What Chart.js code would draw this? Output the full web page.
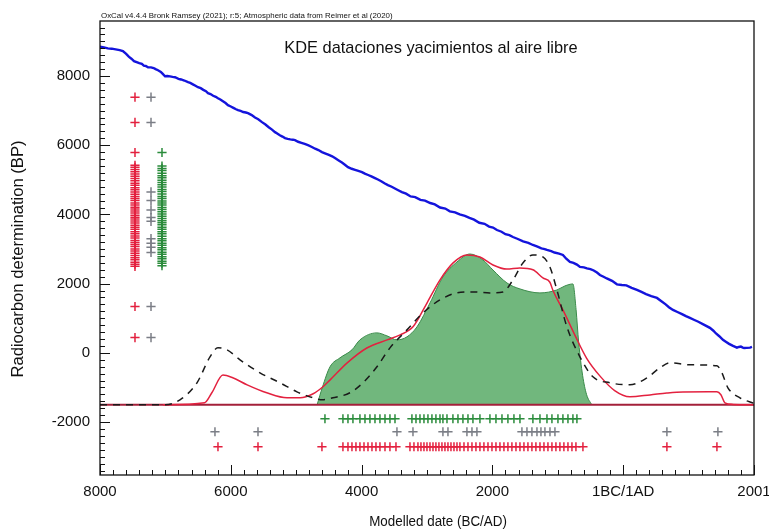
<!DOCTYPE html>
<html><head><meta charset="utf-8">
<script src="https://cdn.jsdelivr.net/npm/chart.js@4.4.1/dist/chart.umd.min.js"></script>
<style>html,body{margin:0;padding:0;background:#fff;}#wrap{width:769px;height:531px;}</style>
</head><body><div id="wrap"><canvas id="c" width="769" height="531"></canvas></div>
<script>
// ---------- text ----------
const headerText = "OxCal v4.4.4 Bronk Ramsey (2021); r:5; Atmospheric data from Reimer et al (2020)";
const titleText = "KDE dataciones yacimientos al aire libre";
const xTitle = "Modelled date (BC/AD)";
const yTitle = "Radiocarbon determination (BP)";

// ---------- axes ----------
const xRange = [-8000, 2001];
const yRange = [-3530, 9590];
const xTickValues = [-8000, -6000, -4000, -2000, 0, 2001];
const yTickValues = [-2000, 0, 2000, 4000, 6000, 8000];
const kdeBaseline = -1500;

// ---------- calibration curve (cal BC/AD, 14C BP) ----------
const curveCal = [-8000,-7940,-7880,-7820,-7760,-7700,-7650,-7600,-7560,-7520,-7480,-7440,-7400,-7360,-7330,-7300,-7266,-7220,-7180,-7150,-7113,-7070,-7040,-7006,-6970,-6930,-6890,-6853,-6800,-6760,-6710,-6654,-6620,-6580,-6540,-6502,-6460,-6420,-6380,-6349,-6310,-6270,-6230,-6196,-6160,-6120,-6080,-6043,-6000,-5960,-5920,-5890,-5850,-5810,-5770,-5737,-5680,-5630,-5580,-5523,-5470,-5420,-5370,-5324,-5290,-5250,-5210,-5171,-5130,-5090,-5050,-5018,-4970,-4920,-4870,-4820,-4760,-4710,-4660,-4606,-4550,-4500,-4450,-4407,-4350,-4300,-4250,-4208,-4150,-4100,-4050,-3994,-3950,-3900,-3850,-3795,-3750,-3700,-3650,-3597,-3540,-3490,-3440,-3383,-3320,-3250,-3180,-3100,-3030,-2950,-2880,-2800,-2720,-2650,-2570,-2500,-2420,-2350,-2280,-2200,-2120,-2050,-1990,-1930,-1860,-1800,-1740,-1685,-1610,-1530,-1450,-1380,-1310,-1250,-1200,-1166,-1100,-1050,-980,-921,-870,-814,-760,-707,-661,-600,-554,-500,-450,-400,-355,-300,-250,-170,-95,-20,50,130,211,280,350,430,517,580,650,700,762,830,900,960,1021,1090,1150,1240,1327,1380,1420,1470,1526,1570,1620,1680,1740,1770,1800,1830,1850,1893,1940,1970];
const curveBP  = [8850,8830,8800,8790,8770,8750,8720,8640,8560,8500,8430,8400,8370,8350,8300,8290,8254,8250,8230,8200,8167,8120,8060,7994,8000,7990,7975,7965,7920,7900,7870,7821,7800,7760,7720,7677,7650,7600,7560,7504,7480,7430,7400,7359,7320,7270,7220,7157,7120,7080,7040,7013,6990,6960,6945,6926,6870,6800,6750,6667,6600,6520,6450,6378,6340,6290,6250,6205,6185,6170,6160,6147,6100,6070,6040,6003,5950,5900,5860,5801,5760,5720,5680,5628,5560,5500,5430,5368,5320,5290,5260,5224,5180,5140,5100,5050,5010,4960,4900,4848,4800,4750,4700,4646,4600,4520,4500,4420,4400,4330,4290,4200,4170,4090,4060,4000,3960,3900,3850,3760,3730,3650,3620,3550,3500,3430,3400,3348,3290,3220,3180,3117,3070,3020,3000,2973,2940,2900,2870,2828,2720,2626,2600,2550,2482,2470,2440,2420,2380,2320,2250,2200,2150,2080,1980,1960,1950,1880,1818,1760,1700,1640,1587,1500,1400,1320,1241,1180,1120,1060,1010,950,900,810,722,640,560,480,375,320,260,200,150,170,180,150,140,144,150,170];

// ---------- KDE: green (filled) ----------
const greenCal = [-4680,-4600,-4483,-4330,-4147,-4025,-3765,-3612,-3459,-3306,-3153,-2954,-2756,-2541,-2343,-2144,-1991,-1777,-1578,-1272,-1013,-890,-768,-720,-680,-620,-560,-480];
const greenBP  = [-1500,-1000,-404,-144,87,375,577,491,375,462,750,1443,2193,2626,2857,2684,2395,2020,1847,1732,1818,1934,1991,1250,300,-650,-1200,-1500];

// ---------- KDE: red line ----------
const redCal = [-7040,-6400,-6290,-6120,-5970,-5750,-5450,-5140,-4940,-4740,-4590,-4480,-4220,-3920,-3610,-3410,-3210,-3000,-2800,-2600,-2390,-2190,-1990,-1780,-1580,-1380,-1227,-1120,-1073,-921,-740,-560,-350,-130,104,410,669,914,1434,1495,1556,1680,2001];
const redBP  = [-1500,-1440,-1154,-640,-720,-924,-1154,-1300,-1300,-1183,-980,-780,-290,140,375,520,760,1440,2110,2600,2830,2770,2540,2420,2450,2400,2165,2040,1800,1240,520,-150,-680,-1090,-1270,-1215,-1160,-1130,-1126,-1212,-1443,-1490,-1500];

// ---------- KDE: black dashed ----------
const dashCal = [-8000,-7000,-6777,-6517,-6318,-6196,-6058,-5859,-5554,-5248,-4988,-4743,-4600,-4437,-4178,-3979,-3765,-3566,-3306,-3061,-2801,-2541,-2297,-2037,-1838,-1685,-1533,-1380,-1227,-1120,-1013,-860,-661,-462,-202,104,364,562,715,1021,1434,1510,1602,1786,2001];
const dashBP  = [-1500,-1500,-1356,-866,-115,144,87,-202,-577,-866,-1126,-1299,-1356,-1299,-1154,-866,-404,144,664,1154,1530,1732,1760,1732,1760,2107,2597,2828,2771,2482,1818,750,-115,-693,-866,-924,-722,-433,-289,-346,-375,-577,-1010,-1299,-1460];

// ---------- modelled dates (bottom rows, cal BC/AD) ----------
const greenRowLevel = -1905, greyRowLevel = -2280, redRowLevel = -2713;
const greenRowDates = [-4560,-4285,-4208,-4132,-4025,-3948,-3872,-3795,-3719,-3642,-3566,-3489,-3230,-3168,-3107,-3046,-2985,-2924,-2863,-2801,-2756,-2694,-2603,-2526,-2450,-2373,-2297,-2190,-2037,-1945,-1853,-1762,-1670,-1578,-1380,-1272,-1165,-1089,-997,-921,-844,-768,-707];
const greyRowDates = [-6242,-5584,-3459,-3214,-2756,-2679,-2389,-2312,-2236,-1548,-1471,-1395,-1318,-1257,-1196,-1119,-1043,669,1449];
const redRowDates = [-6196,-5584,-4606,-4285,-4208,-4147,-4086,-4025,-3963,-3902,-3841,-3780,-3719,-3642,-3566,-3474,-3260,-3199,-3138,-3092,-3046,-3000,-2954,-2908,-2863,-2817,-2771,-2725,-2679,-2633,-2587,-2541,-2496,-2434,-2373,-2312,-2251,-2190,-2129,-2067,-2006,-1945,-1884,-1823,-1762,-1701,-1639,-1578,-1517,-1456,-1395,-1334,-1272,-1211,-1150,-1089,-1028,-967,-906,-844,-783,-722,-615,669,1434];

// ---------- radiocarbon determinations (left columns, BP) ----------
const redColPos = -7465, greyColPos = -7220, greenColPos = -7052;
const redColBP = [7390,6660,5790,5420,5360,5300,5230,5170,5100,5040,4970,4900,4840,4770,4710,4650,4580,4520,4460,4400,4330,4270,4210,4160,4100,4040,3980,3920,3870,3810,3750,3690,3630,3570,3500,3440,3380,3320,3250,3190,3130,3070,3000,2940,2880,2810,2750,2690,2620,2560,2500,1340,440];
const greyColBP = [7390,6660,4650,4400,4130,3910,3800,3300,3170,3050,2900,1340,440];
const greenColBP = [5790,5400,5330,5270,5190,5120,5060,4990,4920,4860,4790,4720,4660,4590,4520,4460,4390,4330,4270,4200,4140,4080,4010,3950,3880,3820,3760,3700,3630,3570,3500,3440,3370,3300,3240,3170,3110,3040,2980,2910,2850,2780,2720,2650,2590,2520];

// ---------- build ----------
const pts = (xs, ys) => xs.map((x, i) => ({x, y: ys[i]}));
const row = (xs, level) => xs.map(x => ({x, y: level}));
const col = (ys, pos) => ys.map(y => ({x: pos, y}));

const FONT = "'Liberation Sans', Arial, Helvetica, sans-serif";
const RED = '#e3213f', GREY = '#7b7e86', GREEN = '#2b8c3c';

const crossDs = (data, color, order) => ({
  type: 'scatter', data, showLine: false, pointStyle: 'cross', pointRadius: 4.6,
  pointBorderWidth: 1.5, borderColor: color, backgroundColor: color, order
});

const framePlugin = {
  id: 'frame',
  afterDatasetsDraw(chart) {
    const {ctx, chartArea: a, scales: {x, y}} = chart;
    ctx.save();
    ctx.strokeStyle = '#111'; ctx.lineWidth = 1.3;
    ctx.strokeRect(a.left, a.top, a.right - a.left, a.bottom - a.top);
    ctx.lineWidth = 1;
    ctx.beginPath();
    for (let v = -8000; v <= 2000; v += 200) {
      const px = Math.round(x.getPixelForValue(v)) + 0.5;
      const len = (v % 2000 === 0) ? 10 : 5;
      ctx.moveTo(px, a.bottom); ctx.lineTo(px, a.bottom - len);
    }
    for (let v = -3400; v <= 9400; v += 200) {
      const py = Math.round(y.getPixelForValue(v)) + 0.5;
      const len = (v % 2000 === 0) ? 10 : 5;
      ctx.moveTo(a.left, py); ctx.lineTo(a.left + len, py);
    }
    ctx.stroke();
    ctx.restore();
  },
  afterDraw(chart) {
    const {ctx, chartArea: a} = chart;
    ctx.save();
    ctx.fillStyle = '#111';
    ctx.font = "7.9px " + FONT;
    ctx.textAlign = 'left'; ctx.textBaseline = 'alphabetic';
    ctx.fillText(headerText, a.left + 1, a.top - 3);
    ctx.font = "16.4px " + FONT;
    ctx.textAlign = 'center'; ctx.textBaseline = 'middle';
    ctx.fillText(titleText, 431, a.top + 27);
    ctx.save();
    ctx.translate(438, 522);
    ctx.scale(0.87, 1);
    ctx.font = "15.4px " + FONT;
    ctx.fillText(xTitle, 0, 0);
    ctx.restore();
    ctx.translate(18, 259);
    ctx.rotate(-Math.PI / 2);
    ctx.font = "16.6px " + FONT;
    ctx.fillText(yTitle, 0, 0);
    ctx.restore();
  }
};

new Chart(document.getElementById('c'), {
  type: 'scatter',
  data: {
    datasets: [
      crossDs(col(redColBP, redColPos), RED, 1),
      crossDs(col(greyColBP, greyColPos), GREY, 1),
      crossDs(col(greenColBP, greenColPos), GREEN, 1),
      crossDs(row(greenRowDates, greenRowLevel), GREEN, 1),
      crossDs(row(greyRowDates, greyRowLevel), GREY, 1),
      crossDs(row(redRowDates, redRowLevel), RED, 1),
      { data: pts(curveCal, curveBP), showLine: true, borderColor: '#1414dc', borderWidth: 2.4,
        pointRadius: 0, tension: 0, order: 3 },
      { data: pts(dashCal, dashBP), showLine: true, borderColor: '#1a1a1a', borderWidth: 1.5,
        borderDash: [7, 6], pointRadius: 0, cubicInterpolationMode: 'monotone', order: 4 },
      { data: pts(redCal, redBP), showLine: true, borderColor: RED, borderWidth: 1.5,
        pointRadius: 0, cubicInterpolationMode: 'monotone', order: 5 },
      { data: pts(xRange, [kdeBaseline, kdeBaseline]), showLine: true, borderColor: '#a3203a', borderWidth: 1.8,
        pointRadius: 0, order: 6 },
      { data: pts(greenCal, greenBP), showLine: true, borderColor: '#3a8a4a', borderWidth: 1,
        backgroundColor: 'rgba(68,160,84,0.76)', fill: {value: kdeBaseline},
        pointRadius: 0, cubicInterpolationMode: 'monotone', order: 7 }
    ]
  },
  options: {
    responsive: false, animation: false, devicePixelRatio: 1,
    layout: { padding: { top: 21, right: 15, left: 0, bottom: 0 }, autoPadding: false },
    plugins: { legend: { display: false }, tooltip: { enabled: false } },
    scales: {
      x: {
        type: 'linear', min: xRange[0], max: xRange[1],
        afterBuildTicks: s => { s.ticks = xTickValues.map(v => ({value: v})); },
        afterFit: s => { s.height = 56; s.paddingLeft = 0; s.paddingRight = 0; },
        grid: { display: false, drawTicks: false }, border: { display: false },
        ticks: { padding: 8, color: '#111', font: { family: FONT, size: 15 }, maxRotation: 0,
          autoSkip: false,
          callback: v => v < 0 ? String(-v) : (v === 0 ? '1BC/1AD' : String(v)) }
      },
      y: {
        type: 'linear', min: yRange[0], max: yRange[1],
        afterBuildTicks: s => { s.ticks = yTickValues.map(v => ({value: v})); },
        afterFit: s => { s.width = 100; s.paddingTop = 0; s.paddingBottom = 0; },
        grid: { display: false, drawTicks: false }, border: { display: false },
        ticks: { padding: 10, color: '#111', font: { family: FONT, size: 15 }, autoSkip: false,
          callback: v => String(v) }
      }
    }
  },
  plugins: [framePlugin]
});
</script>
</body></html>
